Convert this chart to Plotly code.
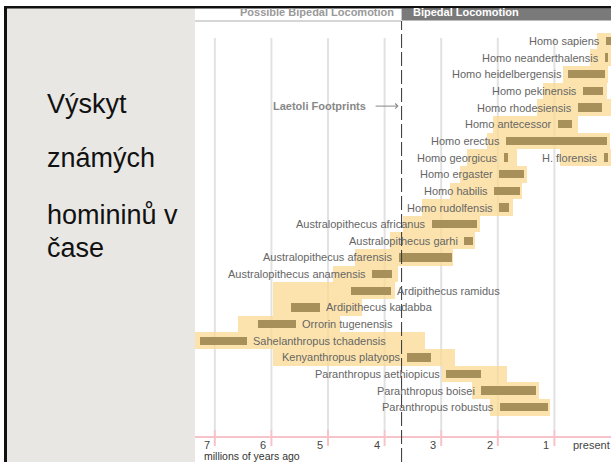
import plotly.graph_objects as go

# ---------------- data (millions of years ago) ----------------
species = ["Homo sapiens", "Homo neanderthalensis", "Homo heidelbergensis", "Homo pekinensis",
           "Homo rhodesiensis", "Homo antecessor", "Homo erectus", "Homo georgicus", "H. florensis",
           "Homo ergaster", "Homo habilis", "Homo rudolfensis", "Australopithecus africanus",
           "Australopithecus garhi", "Australopithecus afarensis", "Australopithecus anamensis",
           "Ardipithecus ramidus", "Ardipithecus kadabba", "Orrorin tugenensis",
           "Sahelanthropus tchadensis", "Kenyanthropus platyops", "Paranthropus aethiopicus",
           "Paranthropus boisei", "Paranthropus robustus"]
# row each species is drawn in (H. florensis shares the row of Homo georgicus)
row_of = [s if s != "H. florensis" else "Homo georgicus" for s in species]

first_ma = [0.08, 0.11, 0.76, 0.49, 0.58, 0.94, 1.86, 1.89, 0.12, 1.98, 2.07, 1.98, 3.16,
            2.60, 3.75, 4.22, 4.59, 5.65, 6.24, 7.26, 3.60, 2.92, 2.30, 1.96]
last_ma = [0.00, 0.05, 0.11, 0.14, 0.16, 0.69, 0.07, 1.82, 0.05, 1.54, 1.61, 1.80, 2.37,
           2.44, 2.81, 3.87, 3.89, 5.14, 5.57, 6.43, 3.18, 2.30, 1.33, 1.11]
range_first = [0.25, 0.37, 0.85, 1.20, 1.31, 2.08, 2.19, 2.54, 0.90, 2.67, 2.84, 3.34, 3.67,
               3.90, 4.52, 4.91, 5.97, 5.97, 6.59, 7.35, 5.97, 2.99, 2.46, 2.14]
range_last = [0.00, 0.00, 0.05, 0.07, 0.00, 0.58, 0.02, 1.66, 0.00, 1.48, 1.57, 1.73, 2.31,
              2.40, 2.79, 3.76, 3.82, 4.40, 4.79, 3.29, 2.76, 1.84, 1.27, 1.08]
label_side = ["left"] * 16 + ["right"] * 4 + ["left"] * 4

tick_values = [7, 6, 5, 4, 3, 2, 1, 0]
tick_labels = ["7", "6", "5", "4", "3", "2", "1", "present"]
laetoli_ma = 3.7

title_lines = ["Výskyt", "známých", "homininů v", "čase"]

# ---------------- figure ----------------
W, H = 611, 462
FONT = "Liberation Sans, Arial, Helvetica, sans-serif"
rows = list(dict.fromkeys(row_of))


def py(p):
    return 1 - p / H


def px(p):
    return p / W


fig = go.Figure()

fig.add_trace(go.Bar(
    y=row_of, x=[a - b for a, b in zip(range_first, range_last)], base=range_last,
    orientation="h", width=1.0, marker=dict(color="rgba(251,218,145,0.75)", line=dict(width=0)),
    hoverinfo="skip", showlegend=False))
fig.add_trace(go.Bar(
    y=row_of, x=[a - b for a, b in zip(first_ma, last_ma)], base=last_ma,
    orientation="h", width=0.5, marker=dict(color="#a8905a", line=dict(width=0)),
    hoverinfo="skip", showlegend=False))

annotations = []
for s, r, f, l, side in zip(species, row_of, first_ma, last_ma, label_side):
    if side == "left":
        annotations.append(dict(x=f, y=r, xref="x", yref="y", text=s, showarrow=False,
                                xanchor="right", yanchor="middle", xshift=-4,
                                font=dict(family=FONT, size=11, color="#666")))
    else:
        annotations.append(dict(x=l, y=r, xref="x", yref="y", text=s, showarrow=False,
                                xanchor="left", yanchor="middle", xshift=4,
                                font=dict(family=FONT, size=11, color="#666")))

for v, t in zip(tick_values, tick_labels):
    annotations.append(dict(x=v, y=py(445), xref="x", yref="paper", text=t, showarrow=False,
                            xanchor="center" if t != "present" else "right", yanchor="middle",
                            xshift=-8 if t != "present" else 0, borderpad=0,
                            font=dict(family=FONT, size=11, color="#444")))
annotations.append(dict(x=px(203), y=py(456), xref="paper", yref="paper", text="millions of years ago",
                        showarrow=False, xanchor="left", yanchor="middle", borderpad=0,
                        font=dict(family=FONT, size=10.5, color="#333")))

# header
annotations.append(dict(x=laetoli_ma, y=py(12), xref="x", yref="paper", text="<b>Possible Bipedal Locomotion</b>",
                        showarrow=False, xanchor="right", yanchor="middle", xshift=-6,
                        font=dict(family=FONT, size=11, color="#999")))
annotations.append(dict(x=laetoli_ma, y=py(12), xref="x", yref="paper", text="<b>Bipedal Locomotion</b>",
                        showarrow=False, xanchor="left", yanchor="middle", xshift=9,
                        font=dict(family=FONT, size=11, color="#fff")))

# Laetoli footprints
annotations.append(dict(x=laetoli_ma, y="Homo rhodesiensis", xref="x", yref="y", yshift=1.5,
                        text="<b>Laetoli Footprints</b>", showarrow=True, ax=-82, ay=0,
                        arrowhead=4, arrowsize=1, arrowwidth=1, arrowcolor="#888", standoff=3,
                        startstandoff=8, font=dict(family=FONT, size=11, color="#888")))

# left panel title
for line, yc in zip(title_lines, [104, 158, 215, 248]):
    annotations.append(dict(x=px(45), y=py(yc), xref="paper", yref="paper", text=line, showarrow=False,
                            xanchor="left", yanchor="middle", font=dict(family=FONT, size=27, color="#111")))

shapes = []
# left panel background
shapes.append(dict(type="rect", xref="paper", yref="paper", x0=px(7), x1=px(195), y0=0, y1=py(8),
                   fillcolor="#e8e7e3", line=dict(width=0), layer="below"))
# black frame
shapes.append(dict(type="rect", xref="paper", yref="paper", x0=px(4), x1=1, y0=py(8.5), y1=py(6),
                   fillcolor="#111", line=dict(width=0), layer="above"))
shapes.append(dict(type="rect", xref="paper", yref="paper", x0=px(4), x1=px(7), y0=0, y1=py(6),
                   fillcolor="#111", line=dict(width=0), layer="above"))
# header
shapes.append(dict(type="rect", xref="x", yref="paper", x0=laetoli_ma, x1=-1, y0=py(20.5), y1=py(8.5),
                   fillcolor="#7a7a7a", line=dict(width=0), layer="below"))
shapes.append(dict(type="line", xref="paper", yref="paper", x0=px(195), x1=px(401), y0=py(21), y1=py(21),
                   line=dict(color="#c9c9c9", width=1.5), layer="below"))
# gridlines and axis ticks
for v in tick_values[:-1]:
    shapes.append(dict(type="line", xref="x", yref="paper", x0=v, x1=v, y0=py(430), y1=py(38),
                       line=dict(color="#e2e2e2", width=2), layer="below"))
    shapes.append(dict(type="line", xref="x", yref="paper", x0=v, x1=v, y0=py(446), y1=py(430),
                       line=dict(color="#f6c3cb", width=2), layer="above"))
shapes.append(dict(type="line", xref="paper", yref="paper", x0=px(195), x1=1, y0=py(437), y1=py(437),
                   line=dict(color="#f6c3cb", width=2), layer="above"))
# Laetoli dashed line
shapes.append(dict(type="line", xref="x", yref="paper", x0=laetoli_ma, x1=laetoli_ma, y0=0, y1=py(21),
                   line=dict(color="#333", width=1, dash="14px,4px"), layer="above"))

fig.update_layout(
    width=W, height=H, margin=dict(l=0, r=0, t=0, b=0),
    paper_bgcolor="white", plot_bgcolor="rgba(0,0,0,0)",
    barmode="overlay", bargap=0,
    xaxis=dict(domain=[px(195), 1], range=[7.35, 0], showgrid=False, zeroline=False,
               showticklabels=False, ticks="", showline=False, fixedrange=True),
    yaxis=dict(type="category", categoryarray=rows, range=[25.285, -2.4625], showgrid=False,
               zeroline=False, showticklabels=False, ticks="", showline=False, fixedrange=True),
    annotations=annotations, shapes=shapes, showlegend=False,
)

fig.write_html("out.html", config={"displayModeBar": False},
               post_script="document.body.style.margin='0';document.body.style.overflow='hidden';")
